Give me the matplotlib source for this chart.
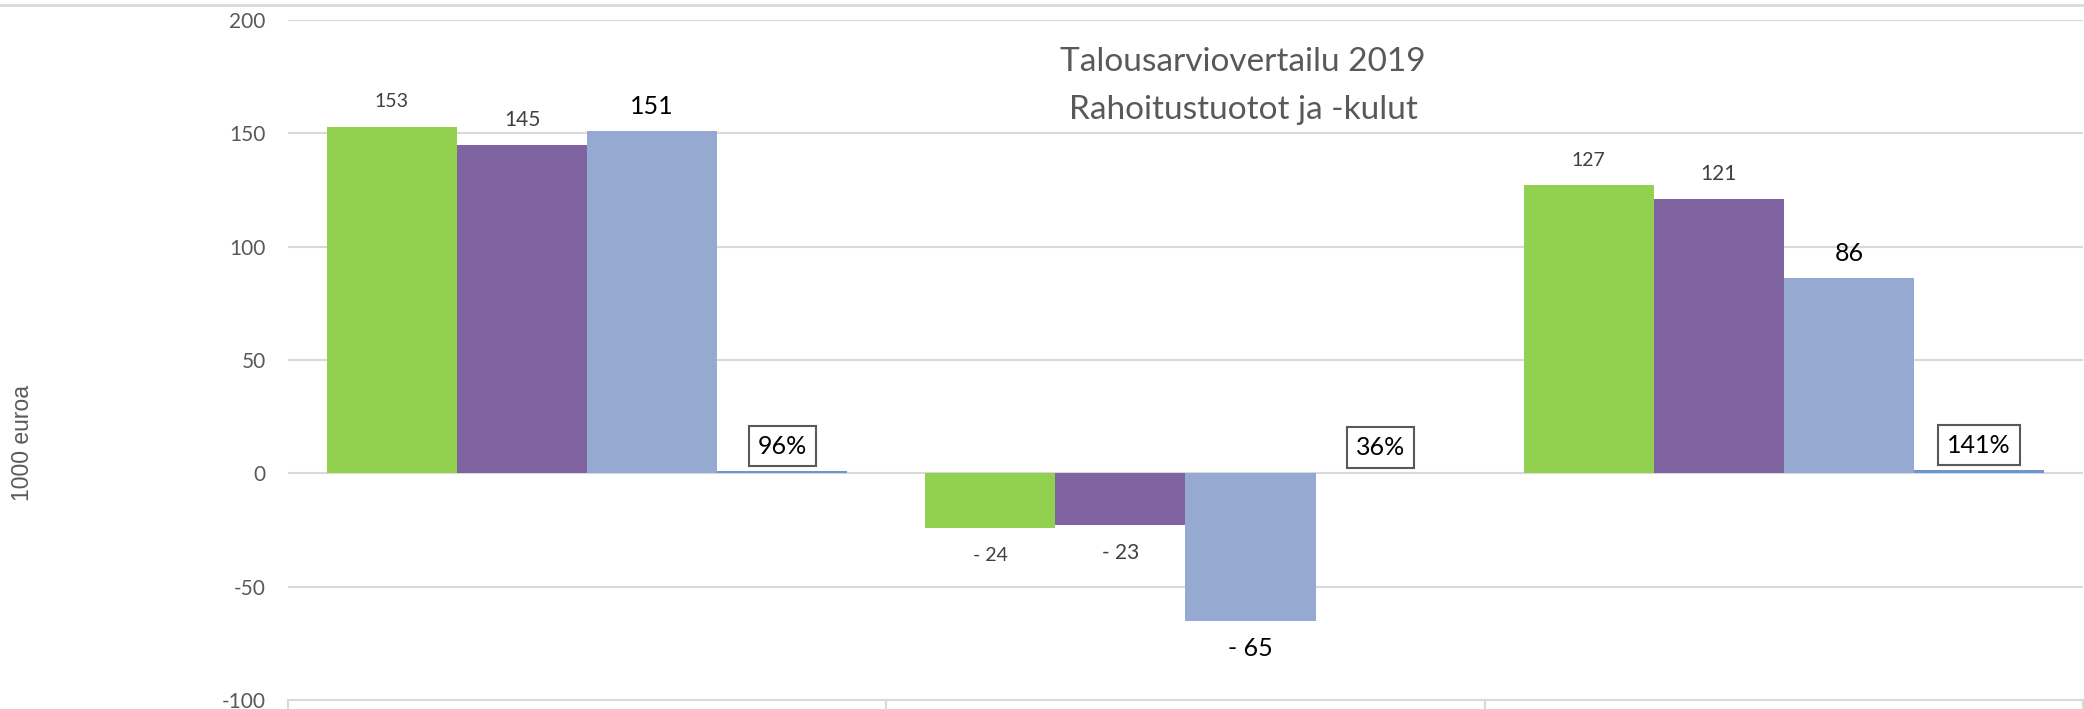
import matplotlib.pyplot as plt
import matplotlib.lines as mlines
import numpy as np

# Talousarviovertailu 2019, three groups of four bars
group_pos = np.arange(3)
series_a = [153, -24, 127]
series_b = [145, -23, 121]
series_c = [151, -65, 86]
series_pct = [0.96, 0.36, 1.41]  # drawn on the same axis, labelled as percent

title_lines = ['Talousarviovertailu 2019', 'Rahoitustuotot ja -kulut']
y_label = '1000 euroa'
y_ticks = [-100, -50, 0, 50, 100, 150, 200]

colors = ['#92D050', '#8064A2', '#95A9D1', '#6A96D2']
grid_gray = '#d9d9d9'
text_gray = '#595959'

W, H = 2084, 709
fig = plt.figure(figsize=(W / 100, H / 100), dpi=100)
# plot area: y=200 at 20 px from the top, y=-100 at 700 px
ax = fig.add_axes([288 / W, 9 / H, (2083 - 288) / W, 680 / H])

bar_w = 0.87 / 4
offsets = (np.arange(4) - 1.5) * bar_w
all_series = [series_a, series_b, series_c, series_pct]
for off, vals, c in zip(offsets, all_series, colors):
    ax.bar(group_pos + off, vals, bar_w, color=c, linewidth=0, zorder=2)


def fmt_num(v):
    return str(v) if v >= 0 else '- %d' % abs(v)


def put_label(xv, yv, txt, size, color, box=False):
    dy = 18 if yv >= 0 else -20
    kw = {}
    if box:
        kw['bbox'] = dict(boxstyle='square,pad=0.35', fc='white', ec=text_gray, lw=1.5)
    ax.annotate(txt, (xv, yv), xytext=(0, dy), textcoords='offset points',
                ha='center', va='center', fontsize=size, color=color,
                family='Lato', zorder=5, **kw)


label_styles = [(14, '#404040'), (15, '#404040'), (18, '#000000')]
for off, vals, (size, col) in zip(offsets[:3], all_series[:3], label_styles):
    for xv, v in zip(group_pos + off, vals):
        put_label(xv, v, fmt_num(v), size, col)
for xv, p in zip(group_pos + offsets[3], series_pct):
    put_label(xv, p, '%d%%' % round(p * 100), 18, '#000000', box=True)

ax.set_xlim(-0.5, 2.5)
ax.set_ylim(-100, 200)
ax.set_yticks(y_ticks)
ax.set_yticklabels([str(t) for t in y_ticks], family='Lato', fontsize=15, color=text_gray)
ax.set_xticks([-0.5, 0.5, 1.5, 2.5])
ax.set_xticklabels([])
ax.tick_params(axis='y', length=0, pad=16)
ax.tick_params(axis='x', length=7, width=1.5, color=grid_gray, direction='out')
ax.grid(axis='y', color=grid_gray, lw=1.5, zorder=0)
ax.set_axisbelow(True)
for s in ['top', 'right', 'left']:
    ax.spines[s].set_visible(False)
ax.spines['bottom'].set_color(grid_gray)
ax.spines['bottom'].set_linewidth(1.5)

# title sits right of the axes centre in the original
fig.text(1243 / W, 1 - 62 / H, title_lines[0], ha='center', va='center',
         fontsize=24, color=text_gray, family='Lato')
fig.text(1243 / W, 1 - 110 / H, title_lines[1], ha='center', va='center',
         fontsize=24, color=text_gray, family='Lato')
fig.text(23 / W, 1 - 443 / H, y_label, rotation=90, ha='center', va='center',
         fontsize=16.5, color=text_gray, family='Liberation Sans')

# thin frame line along the top edge
fig.add_artist(mlines.Line2D([0, 1], [1 - 5 / H] * 2, color=grid_gray, lw=2,
                             transform=fig.transFigure))

fig.savefig('out.png', dpi=100)
